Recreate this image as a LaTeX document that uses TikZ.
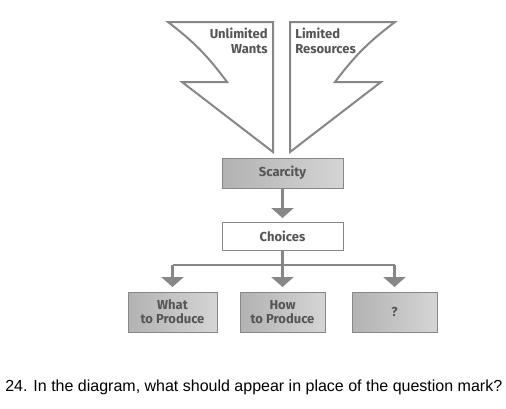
\documentclass[tikz,border=0pt]{standalone}
\usepackage{fontspec}
\setmainfont{Liberation Sans}
\newfontfamily\boxfont{Fira Sans}
\usetikzlibrary{arrows.meta}

\definecolor{boxgray}{RGB}{178,178,178}
\definecolor{linegray}{RGB}{135,135,135}
\definecolor{textgray}{RGB}{85,85,85}

\tikzset{
  bolt/.style={draw=linegray, line width=2pt, fill=white, line join=miter},
  shadebox/.style={draw=linegray, line width=1pt, left color=boxgray, right color=boxgray!55, text=textgray, font=\boxfont\bfseries\fontsize{13}{14}\selectfont, align=center, inner sep=0pt},
  plainbox/.style={draw=linegray, line width=1pt, fill=white, text=textgray, font=\boxfont\bfseries\fontsize{13}{14}\selectfont, inner sep=0pt},
  arrowline/.style={draw=linegray, line width=2.5pt, -{Triangle[width=22pt,length=10pt]}},
  joinline/.style={draw=linegray, line width=2.5pt}
}

\begin{document}
\begin{tikzpicture}[x=1pt, y=-1pt, every node/.style={outer sep=0pt}]
    \useasboundingbox (0,0) rectangle (506,408);

    % Bolts
    \draw[bolt] (168,22) to[bend left=8] (227,82) -- (182,82) -- (273,152) -- (273,22) -- cycle;
    \draw[bolt] (395,22) to[bend right=8] (335,82) -- (381,82) -- (290,152) -- (290,22) -- cycle;
    \node[anchor=north east, align=right, text=textgray, font=\boxfont\bfseries\fontsize{13}{15}\selectfont] (wants) at (271,25) {Unlimited\\Wants};
    \node[anchor=north west, align=left, text=textgray, font=\boxfont\bfseries\fontsize{13}{15}\selectfont] (resources) at (292,25) {Limited\\Resources};

    % Boxes
    \node[shadebox, minimum width=121pt, minimum height=30pt] (scarcity) at (282.5,173) {Scarcity};
    \node[plainbox, minimum width=121pt, minimum height=28pt] (choices) at (282.5,236) {Choices};
    \node[shadebox, minimum width=89pt, minimum height=40pt] (what) at (172.5,312) {What\\to Produce};
    \node[shadebox, minimum width=85pt, minimum height=40pt] (how) at (282.5,312) {How\\to Produce};
    \node[shadebox, minimum width=85pt, minimum height=40pt] (qmark) at (394.5,312) {?};

    % Arrows
    \draw[arrowline, shorten >=4pt] (scarcity) -- (choices);
    \coordinate (split) at (282.5,265);
    \draw[joinline] (choices) -- (split);
    \draw[joinline] (what.north |- split) -- (qmark.north |- split);
    \foreach \b in {what, how, qmark}
        \draw[arrowline, shorten >=5pt] (\b.north |- split) -- (\b);

    % Question
    \node[anchor=west, font=\fontsize{16}{18}\selectfont] (question) at (2,387) {24. In the diagram, what should appear in place of the question mark?};
\end{tikzpicture}
\end{document}
